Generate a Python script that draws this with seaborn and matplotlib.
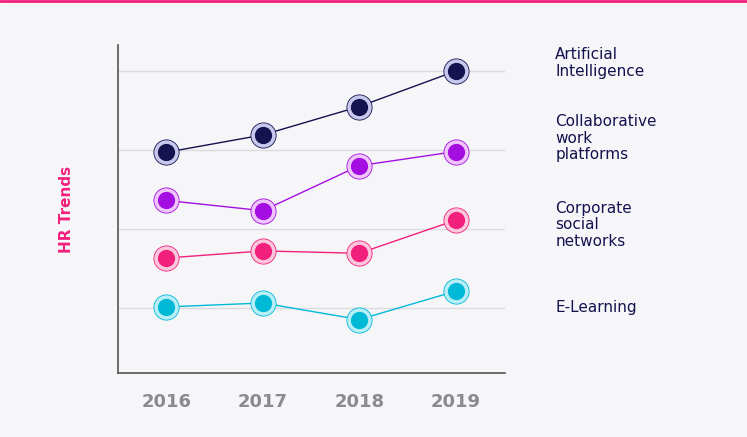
import matplotlib
matplotlib.use("Agg")
import matplotlib.pyplot as plt
import seaborn as sns
import pandas as pd

years = [2016, 2017, 2018, 2019]
ai = [2.97, 3.19, 3.55, 4.0]
collab = [2.36, 2.23, 2.80, 2.98]
corporate = [1.63, 1.72, 1.69, 2.11]
elearning = [1.01, 1.06, 0.85, 1.21]
labels = ["Artificial\nIntelligence", "Collaborative\nwork\nplatforms", "Corporate\nsocial\nnetworks", "E-Learning"]
colors = ["#14124f", "#a40ee0", "#f2207d", "#00b9d6"]
halos = ["#c9c8ec", "#eec6fb", "#fcc6dc", "#b8eef6"]

sns.set_style("white")
bg = "#f6f6f8"
fig = plt.figure(figsize=(7.47, 4.37), dpi=100, facecolor=bg)
ax = fig.add_axes([0.158, 0.146, 0.518, 0.751], facecolor=bg)

series = [ai, collab, corporate, elearning]
for vals, c, h in zip(series, colors, halos):
    df = pd.DataFrame({"year": years, "v": vals})
    sns.lineplot(data=df, x="year", y="v", color=c, lw=1, ax=ax, zorder=2)
    ax.scatter(years, vals, s=330, color=h, edgecolor=c, linewidth=0.6, zorder=3)
    ax.scatter(years, vals, s=130, color=c, zorder=4)

ax.set_xlim(2015.5, 2019.51)
ax.set_ylim(0.17, 4.33)
ax.set_yticks([1, 2, 3, 4])
ax.set_yticklabels([])
ax.tick_params(axis="y", length=0)
ax.grid(axis="y", color="#dcdce0", lw=1)
ax.set_xticks(years)
ax.set_xticklabels([str(y) for y in years], color="#8a8a8f", fontsize=13, fontweight="bold")
ax.tick_params(axis="x", length=0, pad=14)
ax.set_xlabel("")
ax.set_ylabel("HR Trends", color="#f2207d", fontsize=11, fontweight="bold", labelpad=28)
for s in ["top", "right"]:
    ax.spines[s].set_visible(False)
for s in ["left", "bottom"]:
    ax.spines[s].set_color("#555555")
    ax.spines[s].set_linewidth(1.2)

label_y = [4.1, 3.15, 2.05, 1.0]
for lab, yv in zip(labels, label_y):
    ax.text(2020.03, yv, lab, fontsize=11, color="#14124f", va="center", ha="left", clip_on=False, linespacing=1.15)

fig.add_artist(plt.Line2D([0, 1], [0.997, 0.997], color="#f2207d", lw=2, transform=fig.transFigure))
fig.savefig("out.png", dpi=100, facecolor=bg)
